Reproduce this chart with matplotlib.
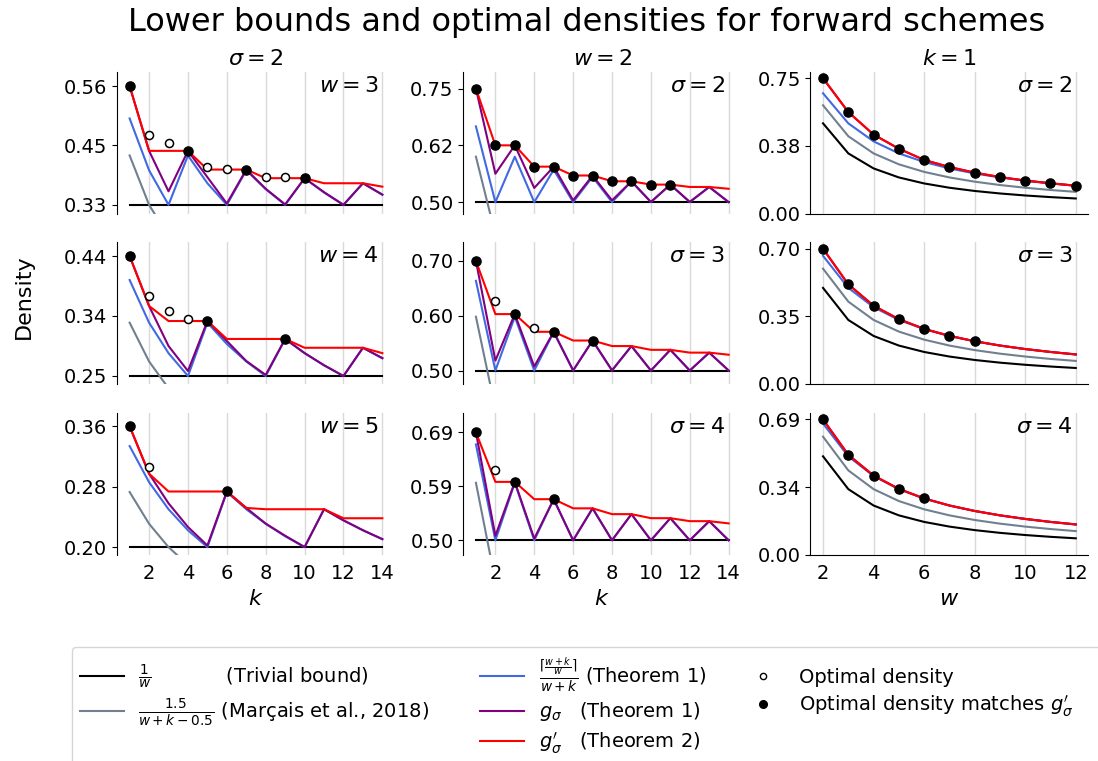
import matplotlib
matplotlib.use('Agg')
import matplotlib.pyplot as plt
from matplotlib.lines import Line2D

# x values
K = [1, 2, 3, 4, 5, 6, 7, 8, 9, 10, 11, 12, 13, 14]
W = [2, 3, 4, 5, 6, 7, 8, 9, 10, 11, 12]

# column 1: sigma = 2, rows w = 3, 4, 5
W3_TRIVIAL = 0.3333
W3_MARCAIS = [0.4286, 0.3333, 0.2727, 0.2308, 0.2, 0.1765, 0.1579, 0.1429, 0.1304, 0.12, 0.1111, 0.1034, 0.0968, 0.0909]
W3_BLUE = [0.5, 0.4, 0.3333, 0.4286, 0.375, 0.3333, 0.4, 0.3636, 0.3333, 0.3846, 0.3571, 0.3333, 0.375, 0.3529]
W3_G = [0.5625, 0.4375, 0.3594, 0.4375, 0.3867, 0.3359, 0.4014, 0.3643, 0.3342, 0.3848, 0.3578, 0.3334, 0.3750, 0.3530]
W3_GP = [0.5625, 0.4375, 0.4375, 0.4375, 0.4014, 0.4014, 0.4014, 0.3848, 0.3848, 0.3848, 0.3750, 0.3750, 0.3750, 0.3684]
W3_MATCH = [1, 4, 7, 10]
W3_OPEN_K = [2, 3, 5, 6, 8, 9]
W3_OPEN = [0.4688, 0.4531, 0.4062, 0.4023, 0.3867, 0.3867]

W4_TRIVIAL = 0.25
W4_MARCAIS = [0.3333, 0.2727, 0.2308, 0.2, 0.1765, 0.1579, 0.1429, 0.1304, 0.12, 0.1111, 0.1034, 0.0968, 0.0909, 0.0857]
W4_BLUE = [0.4, 0.3333, 0.2857, 0.25, 0.3333, 0.3, 0.2727, 0.25, 0.3077, 0.2857, 0.2667, 0.25, 0.2941, 0.2778]
W4_G = [0.4375, 0.3594, 0.2969, 0.2578, 0.3359, 0.3047, 0.2734, 0.2517, 0.3079, 0.2858, 0.2668, 0.2500, 0.2941, 0.2779]
W4_GP = [0.4375, 0.3594, 0.3359, 0.3359, 0.3359, 0.3079, 0.3079, 0.3079, 0.3079, 0.2941, 0.2941, 0.2941, 0.2941, 0.2857]
W4_MATCH = [1, 5, 9]
W4_OPEN_K = [2, 3, 4]
W4_OPEN = [0.375, 0.3516, 0.3398]

W5_TRIVIAL = 0.2
W5_MARCAIS = [0.2727, 0.2308, 0.2, 0.1765, 0.1579, 0.1429, 0.1304, 0.12, 0.1111, 0.1034, 0.0968, 0.0909, 0.0857, 0.0811]
W5_BLUE = [0.3333, 0.2857, 0.25, 0.2222, 0.2, 0.2727, 0.25, 0.2308, 0.2143, 0.2, 0.25, 0.2353, 0.2222, 0.2105]
W5_G = [0.3594, 0.2969, 0.2578, 0.2266, 0.2021, 0.2734, 0.2517, 0.2310, 0.2150, 0.2001, 0.2500, 0.2353, 0.2223, 0.2105]
W5_GP = [0.3594, 0.2969, 0.2734, 0.2734, 0.2734, 0.2734, 0.2517, 0.2500, 0.2500, 0.2500, 0.2500, 0.2381, 0.2381, 0.2381]
W5_MATCH = [1, 6]
W5_OPEN_K = [2]
W5_OPEN = [0.3057]

# column 2: w = 2, rows sigma = 2, 3, 4
W2_TRIVIAL = 0.5
W2_MARCAIS = [0.6, 0.4286, 0.3333, 0.2727, 0.2308, 0.2, 0.1765, 0.1579, 0.1429, 0.1304, 0.12, 0.1111, 0.1034, 0.0968]
W2_BLUE = [0.6667, 0.5, 0.6, 0.5, 0.5714, 0.5, 0.5556, 0.5, 0.5455, 0.5, 0.5385, 0.5, 0.5333, 0.5]
S2_G = [0.7500, 0.5625, 0.6250, 0.5312, 0.5781, 0.5039, 0.5586, 0.5039, 0.5459, 0.5005, 0.5386, 0.5006, 0.5334, 0.5000]
S2_GP = [0.7500, 0.6250, 0.6250, 0.5781, 0.5781, 0.5586, 0.5586, 0.5459, 0.5459, 0.5386, 0.5386, 0.5334, 0.5334, 0.5294]
S2_MATCH = [1, 2, 3, 4, 5, 6, 7, 8, 9, 10, 11]
S3_G = [0.7037, 0.5185, 0.6049, 0.5075, 0.5720, 0.5002, 0.5558, 0.5004, 0.5455, 0.5000, 0.5385, 0.5000, 0.5333, 0.5000]
S3_GP = [0.7037, 0.6049, 0.6049, 0.5720, 0.5720, 0.5558, 0.5558, 0.5455, 0.5455, 0.5385, 0.5385, 0.5333, 0.5333, 0.5294]
S3_MATCH = [1, 3, 5, 7]
S3_OPEN_K = [2, 4]
S3_OPEN = [0.6296, 0.5784]
S4_G = [0.6875, 0.5078, 0.6016, 0.5029, 0.5715, 0.5000, 0.5556, 0.5001, 0.5455, 0.5000, 0.5385, 0.5000, 0.5333, 0.5000]
S4_GP = [0.6875, 0.6016, 0.6016, 0.5715, 0.5715, 0.5556, 0.5556, 0.5455, 0.5455, 0.5385, 0.5385, 0.5333, 0.5333, 0.5294]
S4_MATCH = [1, 3, 5]
S4_OPEN_K = [2]
S4_OPEN = [0.6230]

# column 3: k = 1, rows sigma = 2, 3, 4 (g' equals g here)
K1_TRIVIAL = [0.5, 0.3333, 0.25, 0.2, 0.1667, 0.1429, 0.125, 0.1111, 0.1, 0.0909, 0.0833]
K1_MARCAIS = [0.6, 0.4286, 0.3333, 0.2727, 0.2308, 0.2, 0.1765, 0.1579, 0.1429, 0.1304, 0.12]
K1_BLUE = [0.6667, 0.5, 0.4, 0.3333, 0.2857, 0.25, 0.2222, 0.2, 0.1818, 0.1667, 0.1538]
K1S2_G = [0.7500, 0.5625, 0.4375, 0.3594, 0.2969, 0.2578, 0.2266, 0.2021, 0.1826, 0.1677, 0.1541]
K1S3_G = [0.7037, 0.5185, 0.4074, 0.3374, 0.2867, 0.2506, 0.2225, 0.2001, 0.1818, 0.1667, 0.1538]
K1S4_G = [0.6875, 0.5078, 0.4023, 0.3345, 0.2859, 0.2501, 0.2223, 0.2000, 0.1818, 0.1667, 0.1538]
K1S2_MATCH = [2, 3, 4, 5, 6, 7, 8, 9, 10, 11, 12]
K1S3_MATCH = [2, 3, 4, 5, 6, 7, 8]
K1S4_MATCH = [2, 3, 4, 5, 6]

FIG_W, FIG_H = 1098, 761
LEFTS = [117, 463.3, 810.4]
TOPS = [71.5, 242, 412.7]
AX_W, AX_H = 278, 142


def draw_panel(ax, x, trivial, marcais, blue, g, gp, match, open_x, open_y, ylo, label):
    if isinstance(trivial, float):
        ax.plot([x[0], x[-1]], [trivial, trivial], color='black', lw=1.5)
    else:
        ax.plot(x, trivial, color='black', lw=1.5)
    ax.plot(x, marcais, color='slategray', lw=1.5)
    ax.plot(x, blue, color='royalblue', lw=1.5)
    ax.plot(x, g, color='purple', lw=1.5)
    ax.plot(x, gp, color='red', lw=1.5)
    ax.plot(open_x, open_y, ls='none', marker='o', ms=5.8, mfc='white', mec='black', mew=1.1, zorder=5)
    ax.plot(match, [gp[x.index(v)] for v in match], ls='none', marker='o', ms=6.6, color='black', zorder=6)
    yhi = gp[0]
    ax.set_ylim(0.95 * ylo, 1.05 * yhi)
    ticks = [ylo, (ylo + yhi) / 2, yhi]
    ax.set_yticks(ticks)
    ax.set_yticklabels(['%.2f' % t for t in ticks])
    ax.set_xticks(x[::2] if x[0] == 2 else x[1::2])
    ax.grid(axis='x', color='#d9d9d9', lw=1)
    ax.set_axisbelow(True)
    ax.tick_params(axis='y', labelsize=14)
    ax.tick_params(axis='x', labelsize=14, length=0, pad=7)
    for side in ('top', 'right'):
        ax.spines[side].set_visible(False)
    ax.text(0.942, 0.9, label, transform=ax.transAxes, ha='right', va='center', fontsize=16)


fig = plt.figure(figsize=(FIG_W / 100, FIG_H / 100), dpi=100)
axes = [[fig.add_axes([LEFTS[c] / FIG_W, 1 - (TOPS[r] + AX_H) / FIG_H, AX_W / FIG_W, AX_H / FIG_H])
         for c in range(3)] for r in range(3)]

col1 = [
    (W3_TRIVIAL, W3_MARCAIS, W3_BLUE, W3_G, W3_GP, W3_MATCH, W3_OPEN_K, W3_OPEN, r'$w = 3$'),
    (W4_TRIVIAL, W4_MARCAIS, W4_BLUE, W4_G, W4_GP, W4_MATCH, W4_OPEN_K, W4_OPEN, r'$w = 4$'),
    (W5_TRIVIAL, W5_MARCAIS, W5_BLUE, W5_G, W5_GP, W5_MATCH, W5_OPEN_K, W5_OPEN, r'$w = 5$'),
]
for r, (tr, ma, bl, g, gp, mt, ok, ov, lab) in enumerate(col1):
    ax = axes[r][0]
    draw_panel(ax, K, tr, ma, bl, g, gp, mt, ok, ov, tr, lab)
    ax.spines['bottom'].set_visible(False)

col2 = [
    (S2_G, S2_GP, S2_MATCH, [], [], r'$\sigma = 2$'),
    (S3_G, S3_GP, S3_MATCH, S3_OPEN_K, S3_OPEN, r'$\sigma = 3$'),
    (S4_G, S4_GP, S4_MATCH, S4_OPEN_K, S4_OPEN, r'$\sigma = 4$'),
]
for r, (g, gp, mt, ok, ov, lab) in enumerate(col2):
    ax = axes[r][1]
    draw_panel(ax, K, W2_TRIVIAL, W2_MARCAIS, W2_BLUE, g, gp, mt, ok, ov, W2_TRIVIAL, lab)
    ax.spines['bottom'].set_visible(False)

col3 = [
    (K1S2_G, K1S2_MATCH, r'$\sigma = 2$'),
    (K1S3_G, K1S3_MATCH, r'$\sigma = 3$'),
    (K1S4_G, K1S4_MATCH, r'$\sigma = 4$'),
]
for r, (g, mt, lab) in enumerate(col3):
    ax = axes[r][2]
    draw_panel(ax, W, K1_TRIVIAL, K1_MARCAIS, K1_BLUE, g, g, mt, [], [], 0.0, lab)

for r in range(2):
    for c in range(3):
        axes[r][c].tick_params(axis='x', labelbottom=False)

axes[0][0].set_title(r'$\sigma = 2$', fontsize=16, pad=5)
axes[0][1].set_title(r'$w = 2$', fontsize=16, pad=5)
axes[0][2].set_title(r'$k = 1$', fontsize=16, pad=5)
axes[2][0].set_xlabel(r'$k$', fontsize=16)
axes[2][1].set_xlabel(r'$k$', fontsize=16)
axes[2][2].set_xlabel(r'$w$', fontsize=16)

fig.text(0.534, 1 - 23 / FIG_H, 'Lower bounds and optimal densities for forward schemes',
         ha='center', va='center', fontsize=23)
fig.text(0.022, 1 - 297 / FIG_H, 'Density', rotation=90, ha='center', va='center', fontsize=16)

blank = Line2D([], [], alpha=0)
handles = [
    Line2D([], [], color='black', lw=1.5),
    Line2D([], [], color='slategray', lw=1.5),
    blank,
    Line2D([], [], color='royalblue', lw=1.5),
    Line2D([], [], color='purple', lw=1.5),
    Line2D([], [], color='red', lw=1.5),
    Line2D([], [], ls='none', marker='o', ms=4.5, mfc='white', mec='black'),
    Line2D([], [], ls='none', marker='o', ms=5.5, color='black'),
    blank, blank, blank, blank,
]
marcais_label = r'$\frac{1.5}{w + k - 0.5}$ (Marçais et al., 2018)'
labels = [
    r'$\frac{1}{w}$' + ' ' * 12 + '(Trivial bound)',
    marcais_label,
    marcais_label + 'iii',  # hidden spacer that widens the first column
    r'$\frac{\lceil \frac{w + k}{w} \rceil}{w + k}$ (Theorem 1)',
    r'$g_\sigma$' + ' ' * 3 + '(Theorem 1)',
    r'$g^\prime_\sigma$' + ' ' * 3 + '(Theorem 2)',
    'Optimal density',
    r'Optimal density matches $g^\prime_\sigma$',
    '', '', '', '',
]
leg = fig.legend(handles, labels, ncol=4, loc='upper left', bbox_to_anchor=(72 / FIG_W, 1 - 647 / FIG_H),
                 borderaxespad=0, fontsize=14, handlelength=2.25, handletextpad=0.75, labelspacing=0.35,
                 columnspacing=1.8)
leg.get_texts()[2].set_visible(False)

fig.savefig('out.png', dpi=100)
